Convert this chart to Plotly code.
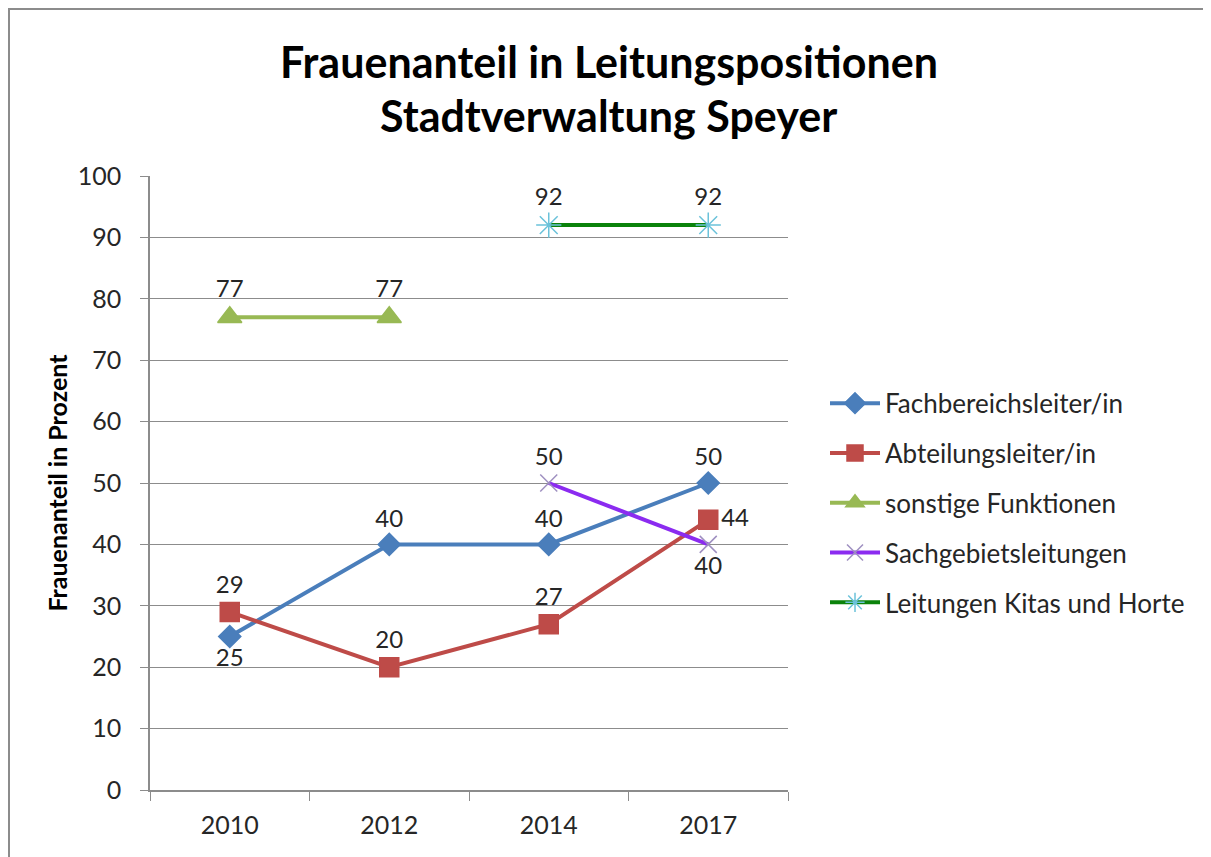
import plotly.graph_objects as go

years = ["2010", "2012", "2014", "2017"]
fachbereich = [25, 40, 40, 50]
abteilung = [29, 20, 27, 44]
sonstige = [77, 77, None, None]
sachgebiet = [None, None, 50, 40]
kitas = [None, None, 92, 92]

series_names = ["Fachbereichsleiter/in", "Abteilungsleiter/in", "sonstige Funktionen",
                "Sachgebietsleitungen", "Leitungen Kitas und Horte"]
title_lines = ["Frauenanteil in Leitungspositionen", "Stadtverwaltung Speyer"]

FONT = "Lato"
TXT = "#262626"


def labels(vals):
    return ["" if v is None else str(v) for v in vals]


fig = go.Figure()

styles = [
    dict(vals=fachbereich, color="#4A7EBB", symbol="diamond", msize=17, mcolor="#4A7EBB",
         pos=["bottom center", "top center", "top center", "top center"]),
    dict(vals=abteilung, color="#BE4B48", symbol="square", msize=19, mcolor="#BE4B48",
         pos=["top center", "top center", "top center", "middle right"]),
    dict(vals=sonstige, color="#98B954", symbol="triangle-up", msize=21, mcolor="#98B954",
         pos=["top center"] * 4),
    dict(vals=sachgebiet, color="#8B2BF0", symbol="x-thin-open", msize=17, mcolor="#9E8FC0",
         pos=["top center", "top center", "top center", "bottom center"]),
    dict(vals=kitas, color="#0A820A", symbol="asterisk-open", msize=21, mcolor="#6BC2DA",
         pos=["top center"] * 4),
]

for name, s in zip(series_names, styles):
    fig.add_trace(go.Scatter(
        x=years, y=s["vals"], name=name, legendgroup=name,
        mode="lines+markers+text",
        line=dict(color=s["color"], width=4),
        marker=dict(symbol=s["symbol"], size=s["msize"], color=s["mcolor"],
                    line=dict(color=s["mcolor"], width=1.5)),
        text=labels(s["vals"]), textposition=s["pos"],
        textfont=dict(family=FONT, size=24, color=TXT),
        cliponaxis=False,
    ))

# two title lines placed separately
for txt, ty in zip(title_lines, [1.1857, 1.0993]):
    fig.add_annotation(text="<b>" + txt + "</b>", xref="paper", yref="paper",
                       x=0.7194, y=ty, xanchor="center", yanchor="middle",
                       showarrow=False, font=dict(family=FONT, size=43, color="#000000"))

fig.update_layout(
    width=1203, height=849,
    margin=dict(l=142, r=423, t=168, b=67),
    paper_bgcolor="white", plot_bgcolor="white",
    font=dict(family=FONT, color=TXT),
    showlegend=True,
    legend=dict(x=1.058, xanchor="left", y=0.467, yanchor="middle",
                traceorder="grouped", tracegroupgap=13, itemwidth=50,
                font=dict(family=FONT, size=26, color=TXT),
                bgcolor="rgba(0,0,0,0)"),
    shapes=[dict(type="rect", xref="paper", yref="paper",
                 x0=-0.221, x1=2.0, y0=-1.0, y1=1.272,
                 line=dict(color="#8c8c8c", width=2), fillcolor="rgba(0,0,0,0)",
                 layer="below")],
)

fig.update_xaxes(
    type="category", range=[-0.5, 3.5],
    showline=True, linecolor="#8c8c8c", linewidth=1.5,
    ticks="outside", tickson="boundaries", ticklen=9, tickcolor="#8c8c8c",
    ticklabelstandoff=12,
    tickfont=dict(family=FONT, size=25, color=TXT),
    showgrid=False,
)
fig.update_yaxes(
    range=[0, 100], dtick=10,
    showline=True, linecolor="#8c8c8c", linewidth=1.5,
    ticks="outside", ticklen=8, tickcolor="#8c8c8c",
    ticklabelstandoff=14,
    tickfont=dict(family=FONT, size=25, color=TXT),
    showgrid=True, gridcolor="#8c8c8c", gridwidth=1,
    zeroline=False,
    title=dict(text="<b>Frauenanteil in Prozent</b>", standoff=3,
               font=dict(family=FONT, size=25, color="#000000")),
)

fig.write_html("out.html")
